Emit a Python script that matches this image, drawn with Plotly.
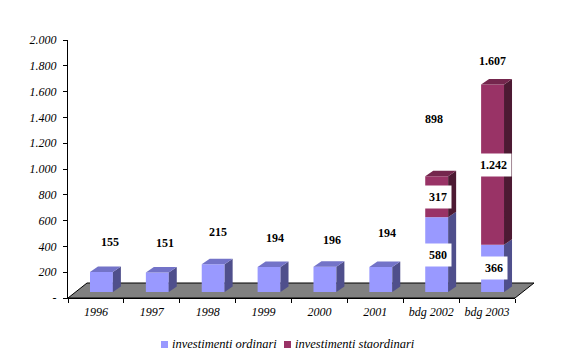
import plotly.graph_objects as go

# ---------------- data ----------------
categories = ["1996", "1997", "1998", "1999", "2000", "2001", "bdg 2002", "bdg 2003"]
ordinari = [155, 151, 215, 194, 196, 194, 580, 366]
straordinari = [0, 0, 0, 0, 0, 0, 317, 1242]
totals = [155, 151, 215, 194, 196, 194, 898, 1607]
series_names = ["investimenti ordinari", "investimenti staordinari"]
y_tickvals = [0, 200, 400, 600, 800, 1000, 1200, 1400, 1600, 1800, 2000]
y_ticktext = ["-", "200", "400", "600", "800", "1.000", "1.200", "1.400", "1.600", "1.800", "2.000"]

# ---------------- style / layout ----------------
W, H = 576, 364
L, R, T, B = 68, 515, 40, 298          # plot area in pixels
NCAT = len(categories)
px_x = (R - L) / NCAT                  # px per category
px_y = (B - T) / 2000.0                # px per unit
SHIFT_PX = (5.5, 6.0)                  # bar plane offset (3D depth)
DEPTH_PX = (8.0, 5.5)                  # bar depth
BAR_W = 0.41
FLOOR_PX = (19.0, 15.0)

col_front = ["#9999FF", "#993366"]
col_top = ["#7373C8", "#74264D"]
col_side = ["#4F4F8C", "#4D1A33"]

# pixel offsets of total labels (relative to bar top / bar centre)
label_dx = [9, 7.5, 4.5, 6, 7, 6, -2.5, 0]
label_dy = [30.5, 29.5, 32, 29, 26.7, 34, 57, 24]

FONT = "Liberation Serif, Times New Roman, serif"

x2_off = SHIFT_PX[0] / px_x
y2_off = SHIFT_PX[1] / px_y
ddx = DEPTH_PX[0] / px_x
ddy = DEPTH_PX[1] / px_y


def fmt(v):
    return f"{v:,}".replace(",", ".")


def xp(px):
    return (px - L) / (R - L)


def yp(py):
    return (B - py) / (B - T)


fig = go.Figure()

# front faces (bars)
idx = list(range(NCAT))
fig.add_trace(go.Bar(x=idx, y=ordinari, width=BAR_W, marker=dict(color=col_front[0], line=dict(width=0)),
                     xaxis="x2", yaxis="y2", name=series_names[0], showlegend=False, hoverinfo="skip"))
fig.add_trace(go.Bar(x=idx, y=straordinari, base=ordinari, width=BAR_W,
                     marker=dict(color=col_front[1], line=dict(width=0)),
                     xaxis="x2", yaxis="y2", name=series_names[1], showlegend=False, hoverinfo="skip"))

# side and top faces, computed from the data
sides = [([], []), ([], [])]
tops = [([], []), ([], [])]
for i in idx:
    segs = [(0, ordinari[i], 0), (ordinari[i], straordinari[i], 1)]
    segs = [s for s in segs if s[1] > 0]
    xl, xr = i - BAR_W / 2, i + BAR_W / 2
    for k, (base, v, c) in enumerate(segs):
        sx, sy = sides[c]
        sx += [xr, xr + ddx, xr + ddx, xr, xr, None]
        sy += [base, base + ddy, base + v + ddy, base + v, base, None]
        if k == len(segs) - 1:
            tx, ty = tops[c]
            top = base + v
            tx += [xl, xr, xr + ddx, xl + ddx, xl, None]
            ty += [top, top, top + ddy, top + ddy, top, None]

for c in range(2):
    for (fx, fy), col in ((sides[c], col_side[c]), (tops[c], col_top[c])):
        if fx:
            fig.add_trace(go.Scatter(x=fx, y=fy, fill="toself", fillcolor=col, mode="lines",
                                     line=dict(width=0, color=col), xaxis="x2", yaxis="y2",
                                     showlegend=False, hoverinfo="skip"))

# invisible trace to activate main axes
fig.add_trace(go.Scatter(x=categories, y=[None] * NCAT, mode="markers", showlegend=False,
                         hoverinfo="skip"))

annotations = []
# total labels
for i in idx:
    top = ordinari[i] + straordinari[i]
    annotations.append(dict(x=i, y=top, xref="x2", yref="y2", text=fmt(totals[i]), showarrow=False,
                            xshift=label_dx[i], yshift=label_dy[i],
                            font=dict(family=FONT, size=12, color="black", weight="bold")))
# segment labels for stacked bars
for i in idx:
    if straordinari[i] > 0:
        for yv, v in ((ordinari[i] / 2, ordinari[i]), (ordinari[i] + straordinari[i] / 2, straordinari[i])):
            annotations.append(dict(x=i, y=yv, xref="x2", yref="y2", text=fmt(v), showarrow=False,
                                    xshift=1, bgcolor="white", borderpad=4,
                                    font=dict(family=FONT, size=12, color="black", weight="bold")))

# manual legend
leg_items = [(161, series_names[0], col_front[0]), (284, series_names[1], col_front[1])]
shapes = []
for lx, name, col in leg_items:
    shapes.append(dict(type="rect", xref="paper", yref="paper", x0=xp(lx), x1=xp(lx + 7),
                       y0=yp(348), y1=yp(341), fillcolor=col, line=dict(width=0)))
    annotations.append(dict(x=xp(lx + 9), y=yp(344.5), xref="paper", yref="paper", text=name,
                            showarrow=False, xanchor="left", yanchor="middle",
                            font=dict(family=FONT, size=12.5, color="black", style="italic")))

# floor
fx0, fy0 = FLOOR_PX
floor_path = (f"M {xp(L)},{yp(B)} L {xp(R)},{yp(B)} L {xp(R + fx0)},{yp(B - fy0)} "
              f"L {xp(L + fx0)},{yp(B - fy0)} Z")
shapes.insert(0, dict(type="path", xref="paper", yref="paper", path=floor_path,
                      fillcolor="#808080", line=dict(color="black", width=1), layer="below"))

tickfont = dict(family=FONT, size=12, color="black", style="italic")

fig.update_layout(
    width=W, height=H,
    margin=dict(l=L, r=W - R, t=T, b=H - B, pad=0),
    paper_bgcolor="white", plot_bgcolor="rgba(0,0,0,0)",
    barmode="overlay",
    showlegend=False,
    xaxis=dict(type="category", categoryorder="array", categoryarray=categories,
               range=[-0.5, NCAT - 0.5], tickson="boundaries", ticks="outside", ticklen=4,
               tickcolor="black", showline=True, linecolor="black", linewidth=1,
               showgrid=False, zeroline=False, tickfont=tickfont, ticklabelstandoff=3,
               fixedrange=True),
    yaxis=dict(range=[0, 2000], tickvals=y_tickvals, ticktext=y_ticktext, ticks="outside",
               ticklen=4, tickcolor="black", showline=True, linecolor="black", linewidth=1,
               showgrid=False, zeroline=False, tickfont=tickfont, ticklabelstandoff=4,
               fixedrange=True),
    xaxis2=dict(overlaying="x", range=[-0.5 - x2_off, NCAT - 0.5 - x2_off], visible=False,
                fixedrange=True),
    yaxis2=dict(overlaying="y", range=[-y2_off, 2000 - y2_off], visible=False, fixedrange=True),
    annotations=annotations,
    shapes=shapes,
)

fig.write_html("out.html", config={"displayModeBar": False},
               post_script="document.body.style.margin='0px';document.body.style.padding='0px';")
